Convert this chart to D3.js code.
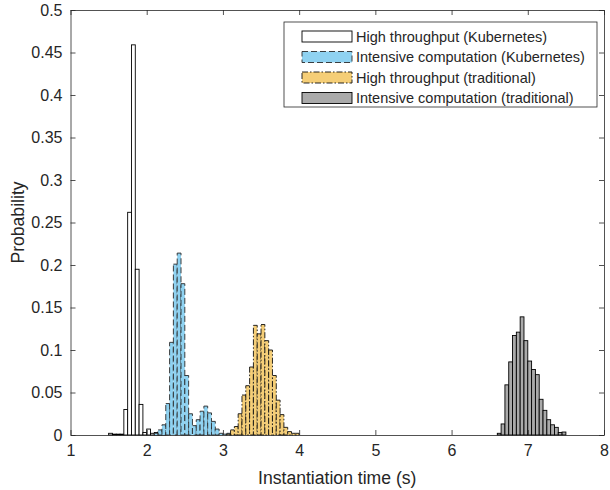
<!DOCTYPE html>
<html>
<head>
<meta charset="utf-8">
<script src="https://cdn.jsdelivr.net/npm/d3@7/dist/d3.min.js"></script>
<style>
	body { margin: 0; background: #fff; }
	text { font-family: "Liberation Sans", Arial, sans-serif; fill: #262626; }
</style>
</head>
<body>
<svg id="chart" width="610" height="490"></svg>
<script>
// Histogram bins are 0.05 s wide; each series lists probabilities from its first bin edge.
const binWidth = 0.05;

const htKubeStart = 1.50;
const htKube = [0.002, 0.001, 0.001, 0.001, 0.030, 0.262, 0.459, 0.195, 0.036, 0.003,
	0.007, 0.002, 0.003, 0.004, 0.002];

const icKubeStart = 2.10;
const icKube = [0.002, 0.006, 0.012, 0.037, 0.109, 0.201, 0.214, 0.178, 0.070, 0.025,
	0.011, 0.018, 0.028, 0.034, 0.026, 0.016, 0.007, 0.002, 0.001, 0.002];

const htTradStart = 3.05;
const htTrad = [0.001, 0.006, 0.010, 0.025, 0.047, 0.058, 0.080, 0.129, 0.119, 0.130,
	0.111, 0.100, 0.070, 0.041, 0.024, 0.009, 0.004, 0.002, 0.002];

const icTradStart = 6.60;
const icTrad = [0.002, 0.013, 0.059, 0.086, 0.117, 0.121, 0.139, 0.111, 0.087, 0.077,
	0.071, 0.042, 0.029, 0.018, 0.012, 0.009, 0.003, 0.0035];

const seriesNames = [
	"High throughput (Kubernetes)",
	"Intensive computation (Kubernetes)",
	"High throughput (traditional)",
	"Intensive computation (traditional)"
];

const xTicks = [1, 2, 3, 4, 5, 6, 7, 8];
const yTicks = [0, 0.05, 0.1, 0.15, 0.2, 0.25, 0.3, 0.35, 0.4, 0.45, 0.5];

/**
 * Series styles
 */
let series = [
	{ name: seriesNames[0], start: htKubeStart, values: htKube, fill: "#ffffff", stroke: "#000", dash: null },
	{ name: seriesNames[1], start: icKubeStart, values: icKube, fill: "#8fd2f1", stroke: "#2a2a2a", dash: "6,3" },
	{ name: seriesNames[2], start: htTradStart, values: htTrad, fill: "#f5ce77", stroke: "#111", dash: "6,2,1.5,2" },
	{ name: seriesNames[3], start: icTradStart, values: icTrad, fill: "#aaaaaa", stroke: "#000", dash: null }
];

let width = 610;
let height = 490;
let margin = { top: 10, right: 6, bottom: 55, left: 70.5 };

let svg = d3.select("#chart");

let xScale = d3.scaleLinear().domain([1, 8]).range([margin.left, width - margin.right]);
let yScale = d3.scaleLinear().domain([0, 0.5]).range([height - margin.bottom, margin.top]);

/**
 * Bars
 */
let plot = svg.append("g").classed("bars", true);
series.forEach(function(s) {
	let bins = s.values.map(function(v, i) {
		let x0 = s.start + i * binWidth;
		return { x0: x0, x1: x0 + binWidth, value: v };
	});

	plot.append("g")
		.selectAll("rect")
		.data(bins)
		.enter()
		.append("rect")
		.attr("x", function(d) { return xScale(d.x0); })
		.attr("y", function(d) { return yScale(d.value); })
		.attr("width", function(d) { return xScale(d.x1) - xScale(d.x0); })
		.attr("height", function(d) { return yScale(0) - yScale(d.value); })
		.attr("fill", s.fill)
		.attr("stroke", s.stroke)
		.attr("stroke-width", 0.9)
		.attr("stroke-dasharray", s.dash);
});

/**
 * Axes (MATLAB style box, ticks pointing in)
 */
let fmt = function(d) { return String(+d.toFixed(2)); };
let tickLen = 5;

svg.append("g")
	.attr("transform", "translate(0," + yScale(0) + ")")
	.call(d3.axisBottom(xScale).tickValues(xTicks).tickSizeInner(-tickLen).tickSizeOuter(0).tickPadding(10).tickFormat(fmt));

svg.append("g")
	.attr("transform", "translate(0," + yScale(0.5) + ")")
	.call(d3.axisTop(xScale).tickValues(xTicks).tickSizeInner(-tickLen).tickSizeOuter(0).tickFormat(""));

svg.append("g")
	.attr("transform", "translate(" + xScale(1) + ",0)")
	.call(d3.axisLeft(yScale).tickValues(yTicks).tickSizeInner(-tickLen).tickSizeOuter(0).tickPadding(8).tickFormat(fmt));

svg.append("g")
	.attr("transform", "translate(" + xScale(8) + ",0)")
	.call(d3.axisRight(yScale).tickValues(yTicks).tickSizeInner(-tickLen).tickSizeOuter(0).tickFormat(""));

svg.selectAll(".domain, .tick line").attr("stroke", "#262626").attr("stroke-width", 0.8);
svg.selectAll(".tick text").style("font-size", "16px").attr("fill", "#262626");

// Axis labels
svg.append("text")
	.attr("x", (xScale(1) + xScale(8)) / 2)
	.attr("y", 484)
	.attr("text-anchor", "middle")
	.style("font-size", "17.6px")
	.text("Instantiation time (s)");

svg.append("text")
	.attr("transform", "translate(24," + (yScale(0) + yScale(0.5)) / 2 + ") rotate(-90)")
	.attr("text-anchor", "middle")
	.style("font-size", "17.6px")
	.text("Probability");

/**
 * Legend
 */
let legend = svg.append("g").attr("transform", "translate(284,22)");
legend.append("rect")
	.attr("width", 313)
	.attr("height", 85)
	.attr("fill", "#fff")
	.attr("stroke", "#262626")
	.attr("stroke-width", 0.8);

let rows = legend.selectAll(".row")
	.data(series)
	.enter()
	.append("g")
	.classed("row", true)
	.attr("transform", function(d, i) { return "translate(0," + (14.5 + i * 20.5) + ")"; });

rows.append("rect")
	.attr("x", 18)
	.attr("y", -5.5)
	.attr("width", 50)
	.attr("height", 11)
	.attr("fill", function(d) { return d.fill; })
	.attr("stroke", function(d) { return d.stroke; })
	.attr("stroke-width", 0.9)
	.attr("stroke-dasharray", function(d) { return d.dash; });

rows.append("text")
	.attr("x", 72)
	.attr("dy", "0.35em")
	.style("font-size", "14.5px")
	.text(function(d) { return d.name; });
</script>
</body>
</html>
